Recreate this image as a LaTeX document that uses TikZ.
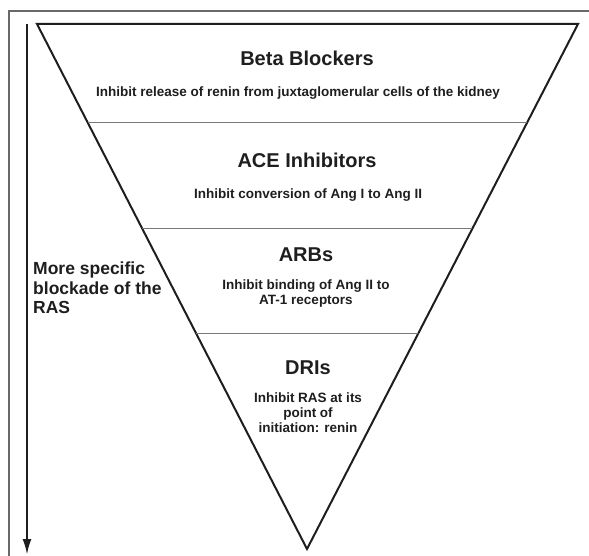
\documentclass[tikz,border=0pt]{standalone}
\usepackage{fontspec}
\setmainfont{Liberation Sans}
\usetikzlibrary{arrows.meta,calc}
\definecolor{inkgray}{RGB}{30,30,30}
\definecolor{framegray}{RGB}{105,105,105}
\definecolor{rulegray}{RGB}{120,120,120}
\tikzset{
  tiertitle/.style={ font=\fontsize{20}{24}\selectfont\bfseries, text=inkgray, align=center, inner sep=0pt }
}
\tikzset{
  tiernote/.style={ font=\fontsize{13.5}{15}\selectfont\bfseries, text=inkgray, align=center, inner sep=0pt }
}
\tikzset{
  sidenote/.style={ font=\fontsize{17.5}{19.5}\selectfont\bfseries, text=inkgray, align=left, inner sep=0pt, anchor=west }
}
\tikzset{
  tierrule/.style={ draw=rulegray, line width=1.2pt }
}

\begin{document}
\begin{tikzpicture}[x=1pt, y=-1pt]
      \useasboundingbox (0,0) rectangle (589,556);
      % frame (only its top and left sides fall on the page)
      \draw[framegray, line width=1.6pt] (9,556) -- (9,11) -- (589,11);

      % the funnel
      \coordinate (tl) at (37,24);
      \coordinate (tr) at (578,24);
      \coordinate (apex) at (307,549);
      \draw[inkgray, line width=2pt, line join=miter] (tl) -- (tr) -- (apex) -- cycle;

      \draw[tierrule] ($(tl)!0.188!(apex)$) -- ($(tr)!0.188!(apex)$);
      \draw[tierrule] ($(tl)!0.390!(apex)$) -- ($(tr)!0.390!(apex)$);
      \draw[tierrule] ($(tl)!0.590!(apex)$) -- ($(tr)!0.590!(apex)$);

      % tiers
      \node[tiertitle] (beta) at (307,58) {Beta Blockers};
      \node[tiernote] (betanote) at (298,93) {Inhibit release of renin from juxtaglomerular cells of the kidney};

      \node[tiertitle] (ace) at (307,160) {ACE Inhibitors};
      \node[tiernote] (acenote) at (308,195) {Inhibit conversion of Ang I to Ang II};

      \node[tiertitle] (arb) at (306,255) {ARBs};
      \node[tiernote] (arbnote) at (306,294) {Inhibit binding of Ang II to\\AT-1 receptors};

      \node[tiertitle] (dri) at (308,368) {DRIs};
      \node[tiernote] (drinote) at (308,413) {Inhibit RAS at its\\point of\\initiation: renin};

      % side arrow
      \coordinate (arrtop) at (27,24);
      \coordinate (arrbot) at (27,555);
      \draw[inkgray, line width=2.4pt, -{Latex[length=16pt, width=9pt]}] (arrtop) -- (arrbot);
      \node[sidenote] (specific) at (33,288) {More specific\\blockade of the\\RAS};
    \end{tikzpicture}
\end{document}
